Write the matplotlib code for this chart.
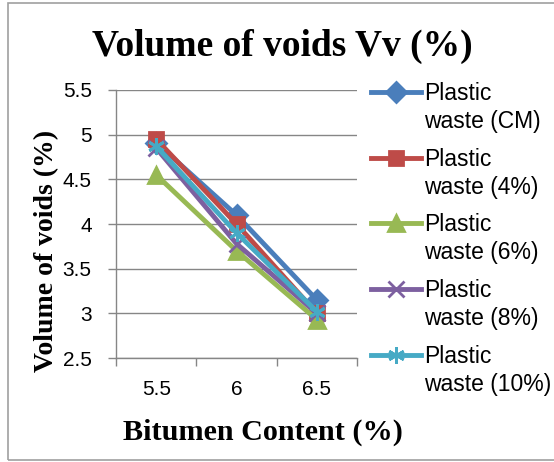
import matplotlib
matplotlib.use("Agg")
import matplotlib.pyplot as plt
from matplotlib.patches import Rectangle
from matplotlib.text import Annotation

# data
bitumen = ["5.5", "6", "6.5"]
vv_cm = [4.91, 4.10, 3.15]
vv_4 = [4.95, 4.00, 3.00]
vv_6 = [4.55, 3.70, 2.93]
vv_8 = [4.85, 3.78, 3.00]
vv_10 = [4.87, 3.90, 3.02]
mixes = ["CM", "4%", "6%", "8%", "10%"]

series = [vv_cm, vv_4, vv_6, vv_8, vv_10]
colors = ["#4A7EBB", "#BE4B48", "#98B954", "#7D60A0", "#46AAC5"]
markers = ["D", "s", "^", "x", (6, 2, 0)]
msizes = [10, 10, 12, 11, 12]

fig = plt.figure(figsize=(5.54, 4.62), dpi=100)
ax = fig.add_axes([0.2094, 0.2251, 0.4350, 0.5801])

xs = range(len(bitumen))
for vals, mix, c, m, ms in zip(series, mixes, colors, markers, msizes):
    ax.plot(xs, vals, color=c, lw=3.5, marker=m, ms=ms, mew=2,
            mec=c, mfc=c, label="Plastic")

ax.set_xlim(-0.5, 2.5)
ax.set_ylim(2.5, 5.5)
ax.set_yticks([2.5, 3, 3.5, 4, 4.5, 5, 5.5])
ax.set_yticklabels(["2.5", "3", "3.5", "4", "4.5", "5", "5.5"])
ax.set_xticks(list(xs))
ax.set_xticklabels(bitumen)
ax.set_xticks([-0.5, 0.5, 1.5, 2.5], minor=True)
ax.tick_params(axis="x", which="major", length=0, pad=16,
               labelsize=15, labelfontfamily="Liberation Sans")
ax.tick_params(axis="x", which="minor", length=6, color="#868686", width=1)
ax.tick_params(axis="y", length=6, color="#868686", width=1, pad=11.5,
               labelsize=15, labelfontfamily="Liberation Sans")

ax.grid(axis="y", color="#868686", lw=1)
ax.set_axisbelow(True)
for s in ["top", "right"]:
    ax.spines[s].set_visible(False)
for s in ["left", "bottom"]:
    ax.spines[s].set_color("#868686")
    ax.spines[s].set_linewidth(1)

fig.text(0.51, 0.900, "Volume of voids Vv (%)", ha="center", va="center",
         fontsize=27, fontweight="bold", family="Liberation Serif")
fig.text(0.085, 0.457, "Volume of voids (%)", ha="center", va="center",
         rotation=90, fontsize=20, fontweight="bold", family="Liberation Serif")
fig.text(0.474, 0.065, "Bitumen Content (%)", ha="center", va="center",
         fontsize=21.7, fontweight="bold", family="Liberation Serif")

leg = fig.legend(loc="upper left", bbox_to_anchor=(371 / 554, 0.823),
                 frameon=False, handlelength=2.2, handletextpad=0.13,
                 labelspacing=1.87, borderpad=0, borderaxespad=0,
                 prop={"family": "Liberation Sans", "size": 16.5})
# second line of each legend label sits under "Plastic"
for t, mix in zip(leg.get_texts(), mixes):
    a = Annotation("waste (%s)" % mix, xy=(0, 0), xycoords=t,
                   xytext=(0, -28), textcoords="offset pixels",
                   ha="left", va="bottom", fontsize=16.5,
                   family="Liberation Sans", annotation_clip=False)
    a.set_zorder(6)
    fig.add_artist(a)

# outer chart frame
fig.patches.append(Rectangle((8 / 554, 2 / 462), 560 / 554, 457 / 462,
                             transform=fig.transFigure, fill=False,
                             ec="#A0A0A0", lw=1.2))

fig.savefig("out.png", dpi=100)
